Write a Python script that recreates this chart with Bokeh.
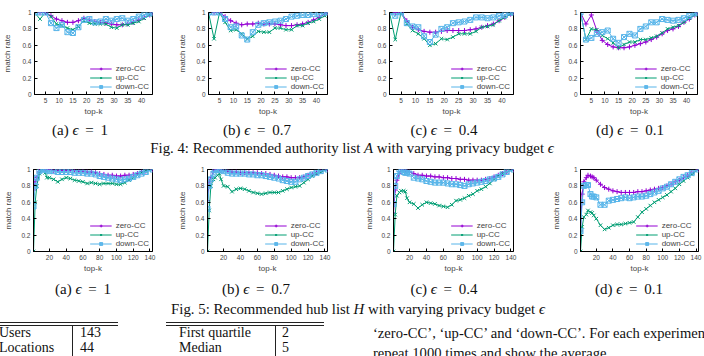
from bokeh.plotting import figure
from bokeh.models import Range1d, FixedTicker, Legend, LegendItem, Div
from bokeh.layouts import column, row
from bokeh.embed import file_html
from bokeh.resources import INLINE

# ---------------- data ----------------
# Fig. 4: authority list, top-k over 44 locations
K_AUTH = [1, 3, 5, 7, 9, 11, 13, 15, 17, 19, 21, 23, 25, 27, 29, 31, 33, 35, 37, 39, 41, 43, 44]

auth_eps1_zero = [1.00, 1.00, 1.00, 0.96, 0.92, 0.90, 0.88, 0.88, 0.90, 0.93, 0.91, 0.89, 0.88, 0.87, 0.86, 0.85, 0.85, 0.86, 0.88, 0.91, 0.94, 0.97, 1.00]
auth_eps1_up = [1.00, 0.92, 1.00, 0.95, 0.86, 0.84, 0.81, 0.79, 0.83, 0.90, 0.87, 0.86, 0.86, 0.86, 0.82, 0.81, 0.85, 0.85, 0.87, 0.89, 0.93, 0.97, 1.00]
auth_eps1_down = [1.00, 1.00, 1.00, 0.87, 0.81, 0.85, 0.76, 0.75, 0.82, 0.91, 0.92, 0.88, 0.89, 0.92, 0.90, 0.92, 0.93, 0.90, 0.92, 0.95, 0.97, 0.99, 1.00]

auth_eps07_zero = [1.00, 1.00, 1.00, 0.95, 0.90, 0.87, 0.85, 0.86, 0.86, 0.87, 0.86, 0.86, 0.86, 0.85, 0.84, 0.84, 0.85, 0.86, 0.88, 0.91, 0.94, 0.98, 1.00]
auth_eps07_up = [1.00, 0.68, 1.00, 0.88, 0.78, 0.79, 0.74, 0.68, 0.71, 0.77, 0.76, 0.76, 0.81, 0.81, 0.79, 0.79, 0.84, 0.84, 0.87, 0.89, 0.92, 0.96, 1.00]
auth_eps07_down = [1.00, 1.00, 1.00, 0.92, 0.82, 0.83, 0.72, 0.67, 0.76, 0.85, 0.87, 0.88, 0.89, 0.90, 0.92, 0.95, 0.96, 0.97, 0.97, 0.98, 0.98, 1.00, 1.00]

auth_eps04_zero = [1.00, 1.00, 1.00, 0.90, 0.82, 0.79, 0.77, 0.76, 0.76, 0.77, 0.78, 0.78, 0.78, 0.78, 0.79, 0.80, 0.82, 0.84, 0.86, 0.90, 0.94, 0.98, 1.00]
auth_eps04_up = [1.00, 0.67, 1.00, 0.86, 0.78, 0.74, 0.68, 0.60, 0.62, 0.68, 0.67, 0.70, 0.74, 0.74, 0.74, 0.77, 0.82, 0.83, 0.85, 0.90, 0.94, 0.98, 1.00]
auth_eps04_down = [1.00, 0.96, 1.00, 0.87, 0.83, 0.82, 0.71, 0.64, 0.73, 0.80, 0.82, 0.87, 0.88, 0.89, 0.91, 0.94, 0.94, 0.93, 0.94, 0.96, 0.97, 1.00, 1.00]

auth_eps01_zero = [1.00, 0.86, 0.97, 0.78, 0.66, 0.61, 0.58, 0.57, 0.57, 0.58, 0.60, 0.62, 0.64, 0.67, 0.70, 0.74, 0.78, 0.80, 0.83, 0.88, 0.92, 0.97, 1.00]
auth_eps01_up = [1.00, 0.67, 0.80, 0.79, 0.72, 0.68, 0.63, 0.57, 0.61, 0.64, 0.64, 0.67, 0.67, 0.69, 0.71, 0.75, 0.80, 0.82, 0.84, 0.88, 0.93, 0.97, 1.00]
auth_eps01_down = [1.00, 0.67, 0.69, 0.74, 0.76, 0.78, 0.68, 0.63, 0.70, 0.74, 0.72, 0.80, 0.83, 0.88, 0.88, 0.92, 0.91, 0.90, 0.91, 0.93, 0.96, 0.99, 1.00]

# Fig. 5: hub list, top-k over 143 users
K_HUB = [1, 3, 5, 8, 10, 13, 15, 17, 20, 25, 30, 35, 40, 45, 50, 55, 60, 65, 70, 75, 80, 85, 90, 95, 100, 105, 110, 115, 120, 125, 130, 135, 143]

hub_eps1_zero = [0.75, 0.85, 0.90, 0.97, 1.00, 1.00, 1.00, 1.00, 1.00, 0.99, 0.99, 0.99, 0.99, 0.99, 0.99, 0.98, 0.98, 0.97, 0.97, 0.96, 0.95, 0.94, 0.93, 0.93, 0.92, 0.92, 0.93, 0.93, 0.94, 0.95, 0.97, 0.98, 1.00]
hub_eps1_up = [0.00, 0.60, 0.80, 0.95, 1.00, 1.00, 0.96, 0.90, 0.90, 0.88, 0.85, 0.88, 0.90, 0.89, 0.87, 0.86, 0.85, 0.83, 0.84, 0.83, 0.82, 0.83, 0.83, 0.83, 0.82, 0.82, 0.84, 0.87, 0.90, 0.93, 0.96, 0.98, 1.00]
hub_eps1_down = [0.55, 0.80, 0.90, 0.98, 1.00, 1.00, 1.00, 0.99, 0.98, 0.98, 0.97, 0.97, 0.97, 0.97, 0.96, 0.96, 0.96, 0.95, 0.95, 0.94, 0.92, 0.91, 0.90, 0.89, 0.88, 0.87, 0.88, 0.89, 0.91, 0.93, 0.95, 0.97, 1.00]

hub_eps07_zero = [0.62, 0.85, 0.90, 0.97, 1.00, 1.00, 1.00, 0.99, 0.99, 0.98, 0.97, 0.97, 0.96, 0.96, 0.96, 0.96, 0.96, 0.95, 0.95, 0.94, 0.93, 0.92, 0.91, 0.91, 0.90, 0.90, 0.90, 0.91, 0.93, 0.94, 0.96, 0.98, 1.00]
hub_eps07_up = [0.00, 0.50, 0.80, 0.88, 0.90, 0.93, 0.95, 0.88, 0.80, 0.79, 0.73, 0.76, 0.77, 0.76, 0.74, 0.72, 0.71, 0.70, 0.71, 0.72, 0.72, 0.72, 0.74, 0.76, 0.78, 0.79, 0.80, 0.84, 0.88, 0.92, 0.95, 0.97, 1.00]
hub_eps07_down = [0.52, 0.80, 0.88, 0.95, 0.99, 1.00, 1.00, 0.99, 0.98, 0.96, 0.95, 0.95, 0.95, 0.95, 0.94, 0.94, 0.93, 0.93, 0.92, 0.91, 0.90, 0.89, 0.87, 0.86, 0.85, 0.85, 0.88, 0.90, 0.92, 0.94, 0.96, 0.98, 1.00]

hub_eps04_zero = [0.47, 0.75, 0.87, 0.95, 1.00, 0.99, 0.99, 0.98, 0.97, 0.95, 0.93, 0.93, 0.92, 0.92, 0.91, 0.91, 0.90, 0.90, 0.89, 0.89, 0.88, 0.88, 0.87, 0.87, 0.87, 0.87, 0.88, 0.89, 0.91, 0.93, 0.95, 0.97, 1.00]
hub_eps04_up = [0.00, 0.45, 0.68, 0.72, 0.74, 0.74, 0.73, 0.65, 0.60, 0.58, 0.53, 0.57, 0.60, 0.59, 0.58, 0.56, 0.55, 0.54, 0.57, 0.62, 0.63, 0.65, 0.68, 0.70, 0.74, 0.76, 0.79, 0.83, 0.88, 0.92, 0.95, 0.97, 1.00]
hub_eps04_down = [0.58, 0.80, 0.92, 1.00, 0.99, 0.97, 0.96, 0.96, 0.95, 0.90, 0.89, 0.88, 0.86, 0.85, 0.84, 0.84, 0.84, 0.83, 0.82, 0.82, 0.81, 0.80, 0.82, 0.83, 0.84, 0.85, 0.86, 0.88, 0.89, 0.91, 0.94, 0.97, 1.00]

hub_eps01_zero = [0.25, 0.70, 0.85, 0.90, 0.93, 0.92, 0.91, 0.90, 0.87, 0.82, 0.78, 0.76, 0.74, 0.73, 0.72, 0.72, 0.72, 0.72, 0.73, 0.73, 0.74, 0.75, 0.76, 0.77, 0.78, 0.80, 0.82, 0.85, 0.87, 0.90, 0.93, 0.96, 1.00]
hub_eps01_up = [0.00, 0.30, 0.42, 0.45, 0.50, 0.48, 0.47, 0.44, 0.40, 0.32, 0.27, 0.29, 0.32, 0.33, 0.33, 0.34, 0.35, 0.36, 0.42, 0.48, 0.52, 0.56, 0.60, 0.63, 0.66, 0.69, 0.73, 0.77, 0.82, 0.86, 0.90, 0.94, 1.00]
hub_eps01_down = [0.25, 0.60, 0.80, 0.81, 0.81, 0.70, 0.67, 0.67, 0.66, 0.57, 0.57, 0.62, 0.63, 0.64, 0.65, 0.66, 0.65, 0.66, 0.67, 0.67, 0.68, 0.70, 0.72, 0.74, 0.77, 0.79, 0.82, 0.85, 0.88, 0.91, 0.93, 0.96, 1.00]

SERIES_NAMES = ["zero-CC", "up-CC", "down-CC"]
Y_TICKS = [0, 0.2, 0.4, 0.6, 0.8, 1]
AUTH_TICKS = [5, 10, 15, 20, 25, 30, 35, 40]
HUB_TICKS = [20, 40, 60, 80, 100, 120, 140]
SUB_CAPTIONS = ["(a) <i>ϵ</i>&thinsp; = &thinsp;1", "(b) <i>ϵ</i>&thinsp; = &thinsp;0.7",
                "(c) <i>ϵ</i>&thinsp; = &thinsp;0.4", "(d) <i>ϵ</i>&thinsp; = &thinsp;0.1"]

# ---------------- styling ----------------
COLORS = ["#9400d3", "#009e73", "#56b4e9"]
MARKERS = ["cross", "x", "square_x"]
SANS = "Liberation Sans"
SERIF = "Liberation Serif"


def panel(k, series, x_end, xticks, left, frame_w, right, top, height, lab_standoff):
    p = figure(width=left + frame_w + right, height=height,
               x_range=Range1d(1, x_end), y_range=Range1d(0, 1),
               output_backend="svg", toolbar_location=None,
               min_border_left=left, min_border_right=right,
               min_border_top=top, min_border_bottom=height - top - 84,
               x_axis_label="top-k", y_axis_label="match rate")
    p.outline_line_color = "black"
    p.outline_line_width = 1
    p.xgrid.visible = False
    p.ygrid.visible = False
    p.xaxis.ticker = FixedTicker(ticks=xticks)
    p.yaxis.ticker = FixedTicker(ticks=Y_TICKS)
    p.yaxis.major_label_overrides = {0: "0", 1: "1"}
    for ax in (p.xaxis[0], p.yaxis[0]):
        ax.major_tick_in = 3
        ax.major_tick_out = 0
        ax.minor_tick_line_color = None
        ax.major_label_text_font = SANS
        ax.major_label_text_font_size = "6.5px"
        ax.axis_label_text_font = SANS
        ax.axis_label_text_font_size = "8px"
        ax.axis_label_text_font_style = "normal"
        ax.major_label_standoff = 3
    p.xaxis.axis_label_standoff = 1
    p.yaxis.axis_label_standoff = lab_standoff

    items = []
    for name, ys, color, marker in zip(SERIES_NAMES, series, COLORS, MARKERS):
        ln = p.line(k, ys, line_color=color, line_width=1)
        sc = p.scatter(k, ys, marker=marker, size=5, line_color=color,
                       fill_color=None, line_width=1)
        items.append(LegendItem(label=name, renderers=[ln, sc]))
    legend = Legend(items=items, location="bottom_right",
                    label_text_font=SANS, label_text_font_size="8px",
                    glyph_width=22, glyph_height=7, label_height=7,
                    label_standoff=4, spacing=0, padding=1, margin=3,
                    background_fill_alpha=0, border_line_color=None)
    p.add_layout(legend)
    return p


def text_div(height, items, extra="", width=704):
    spans = []
    for x, y, html, size, anchor in items:
        tx = "-50%" if anchor == "center" else "0"
        spans.append(
            f'<span style="position:absolute;left:{x}px;top:{y}px;'
            f'transform:translate({tx},-50%);white-space:nowrap;font-size:{size}px;'
            f'line-height:1;">{html}</span>')
    html = (f'<div style="position:relative;width:{width}px;height:{height}px;'
            f'overflow:hidden;font-family:\'{SERIF}\';color:#111;">'
            + "".join(spans) + extra + "</div>")
    return Div(text=html, width=width, height=height, margin=0)


def rule(x, y, w, h):
    return (f'<div style="position:absolute;left:{x}px;top:{y}px;width:{w}px;'
            f'height:{h}px;background:#222;"></div>')


auth_series = [
    (auth_eps1_zero, auth_eps1_up, auth_eps1_down),
    (auth_eps07_zero, auth_eps07_up, auth_eps07_down),
    (auth_eps04_zero, auth_eps04_up, auth_eps04_down),
    (auth_eps01_zero, auth_eps01_up, auth_eps01_down),
]
hub_series = [
    (hub_eps1_zero, hub_eps1_up, hub_eps1_down),
    (hub_eps07_zero, hub_eps07_up, hub_eps07_down),
    (hub_eps04_zero, hub_eps04_up, hub_eps04_down),
    (hub_eps01_zero, hub_eps01_up, hub_eps01_down),
]

# (left border, frame width, right border, y-label standoff)
top_geom = [(33, 119, 23, 7), (33, 119, 23, 6), (39, 124, 12, 9), (55, 117, 7, 4)]
bot_geom = [(33, 119, 23, 5), (32, 120, 23, 5), (43, 120, 12, 4), (55, 118, 6, 4)]

top_row = row([panel(K_AUTH, s, 44, AUTH_TICKS, g[0], g[1], g[2], 12, 118, g[3])
               for s, g in zip(auth_series, top_geom)], spacing=0)
bot_row = row([panel(K_HUB, s, 143, HUB_TICKS, g[0], g[1], g[2], 11, 117, g[3])
               for s, g in zip(hub_series, bot_geom)], spacing=0)

cap_top = text_div(21, [(x, 12, c, 15, "center") for x, c in zip([80, 257, 444, 630], SUB_CAPTIONS)])
fig4 = text_div(19, [(352, 9, "Fig. 4: Recommended authority list <i>A</i> with varying privacy budget <i>ϵ</i>", 14.8, "center")])
cap_bot = text_div(24, [(x, 14, c, 15, "center") for x, c in zip([83, 256, 444, 629], SUB_CAPTIONS)])
fig5 = text_div(18, [(358, 10, "Fig. 5: Recommended hub list <i>H</i> with varying privacy budget <i>ϵ</i>", 14.8, "center")])

# dataset statistics tables and the running text beside them
table_items = [
    (-1, 15.5, "Users", 14, "left"), (80, 15.5, "143", 14, "left"),
    (-1, 30.5, "Locations", 14, "left"), (80, 30.5, "44", 14, "left"),
    (179, 15.5, "First quartile", 14, "left"), (282, 15.5, "2", 14, "left"),
    (179, 30.5, "Median", 14, "left"), (282, 30.5, "5", 14, "left"),
    (373, 15.5, "‘zero-CC’, ‘up-CC’ and ‘down-CC’. For each experiment", 14.6, "left"),
    (373, 36, "repeat 1000 times and show the average.", 14.6, "left"),
]
rules = (rule(0, 5, 118, 1) + rule(0, 8, 118, 1) + rule(72, 8, 1, 31) +
         rule(166, 5, 158, 1) + rule(166, 8, 158, 1) + rule(275, 8, 1, 31))
bottom = text_div(39, table_items, extra=rules)

layout = column([top_row, cap_top, fig4, bot_row, cap_bot, fig5, bottom], spacing=0)

open("out.html", "w").write(file_html(layout, INLINE))
